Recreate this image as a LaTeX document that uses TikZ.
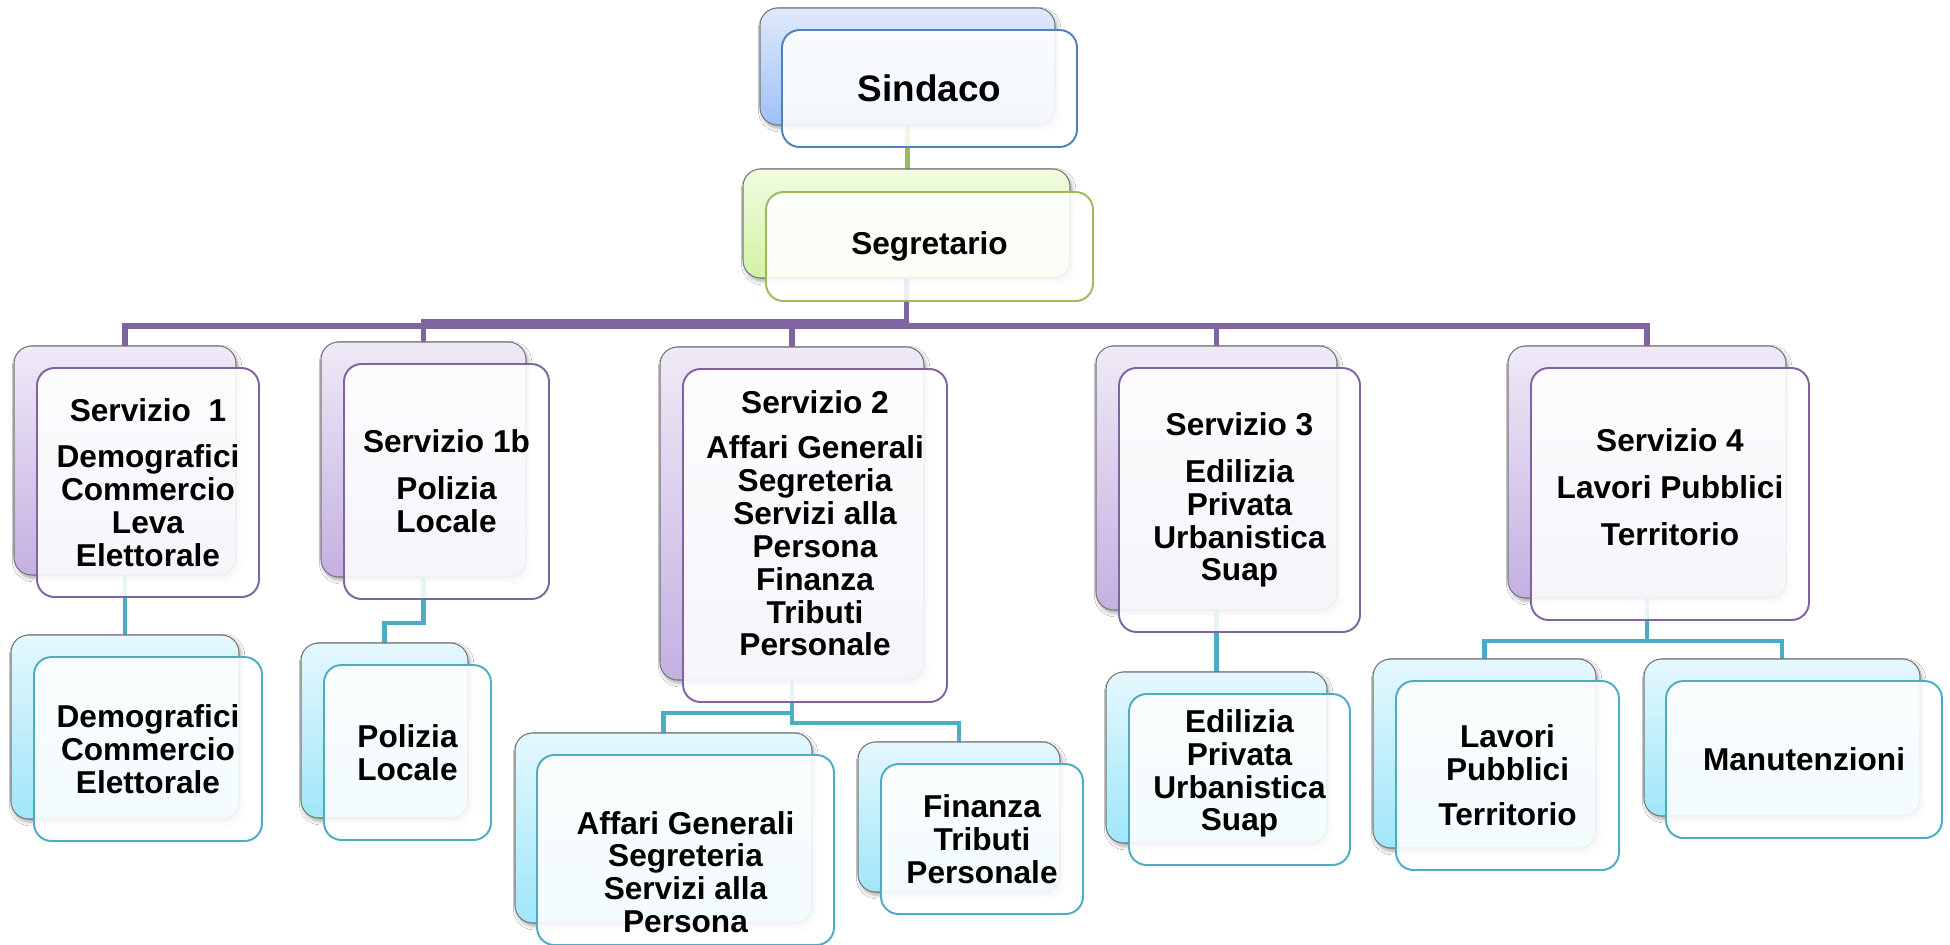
\documentclass[tikz,border=0pt]{standalone}
\usepackage{fontspec}
\setmainfont{Liberation Sans}
\usepackage{tikz}
\usetikzlibrary{calc,backgrounds,shadows.blur}
\definecolor{edge}{HTML}{777777}
\definecolor{blueln}{HTML}{4F81BD}
\definecolor{greenln}{HTML}{9BBB59}
\definecolor{purpleln}{HTML}{8064A2}
\definecolor{cyanln}{HTML}{4BACC6}
\definecolor{blueT}{HTML}{E0EAFC}
\definecolor{blueB}{HTML}{A0C0F5}
\definecolor{greenT}{HTML}{F1FBE2}
\definecolor{greenB}{HTML}{D2F3A4}
\definecolor{purpleT}{HTML}{EFEAF7}
\definecolor{purpleB}{HTML}{C4B0E1}
\definecolor{cyanT}{HTML}{E4F8FD}
\definecolor{cyanB}{HTML}{A0E6F9}
\tikzset{
  sz/.style 2 args={minimum width=#1*0.02cm, minimum height=#2*0.02cm},
  back/.style={draw=edge, line width=0.6pt, rounded corners=10pt, inner sep=0pt, outer sep=0pt,
    blur shadow={shadow xshift=1.2pt, shadow yshift=-1.8pt, shadow blur steps=6, shadow opacity=35}},
  bkblue/.style={back, top color=blueT, bottom color=blueB},
  bkgreen/.style={back, top color=greenT, bottom color=greenB},
  bkpurple/.style={back, top color=purpleT, bottom color=purpleB},
  bkcyan/.style={back, top color=cyanT, bottom color=cyanB},
  front/.style={draw=#1, line width=1.1pt, rounded corners=10pt, fill=white, fill opacity=0.88,
    text opacity=1, inner sep=0pt, outer sep=0pt, align=center, font=\fontsize{18}{18.7}\selectfont\bfseries},
  txt/.style={inner sep=0pt, align=center, font=\fontsize{18}{18.7}\selectfont\bfseries},
  lnG/.style={draw=greenln, line width=2.3pt},
  lnP/.style={draw=purpleln, line width=3.3pt},
  lnC/.style={draw=cyanln, line width=2.7pt},
}
\begin{document}
\begin{tikzpicture}[x=0.02cm, y=-0.02cm]
  \useasboundingbox (0,0) rectangle (1950,944);
  % top
  \node[bkblue, sz={295}{117}] (sind) at (907.5,66.5) {};
  \node[front=blueln, sz={295}{117}, font=\fontsize{21}{24}\selectfont\bfseries] (sindF) at ($(sind)+(22,22)$) {Sindaco};
  \node[bkgreen, sz={327}{109}] (segr) at (906.5,223.5) {};
  \node[front=greenln, sz={327}{109}] (segrF) at ($(segr)+(23,23)$) {Segretario};
  % servizi
  \node[bkpurple, sz={222}{229}] (s1) at (125,460.5) {};
  \node[front=purpleln, sz={222}{229}] (s1F) at ($(s1)+(23,22)$) {Servizio~~1\\[8pt]Demografici\\Commercio\\Leva\\Elettorale};
  \node[bkpurple, sz={205}{235}] (s1b) at (423.5,459.5) {};
  \node[front=purpleln, sz={205}{235}] (s1bF) at ($(s1b)+(23,22)$) {Servizio 1b\\[8pt]Polizia\\Locale};
  \node[bkpurple, sz={264}{333}] (s2) at (792,513.5) {};
  \node[front=purpleln, sz={264}{333}] (s2F) at ($(s2)+(23,22)$) {};
  \node[txt] (s2T) at ($(s2F)+(0,-12)$) {Servizio 2\\[7pt]Affari Generali\\Segreteria\\Servizi alla\\Persona\\Finanza\\Tributi\\Personale};
  \node[bkpurple, sz={241}{264}] (s3) at (1216.5,478) {};
  \node[front=purpleln, sz={241}{264}] (s3F) at ($(s3)+(23,22)$) {Servizio 3\\[8pt]Edilizia\\Privata\\Urbanistica\\Suap};
  \node[bkpurple, sz={278}{252}] (s4) at (1647,472) {};
  \node[front=purpleln, sz={278}{252}] (s4F) at ($(s4)+(23,22)$) {};
  \node[txt] (s4T) at ($(s4F)+(0,-7)$) {Servizio 4\\[8pt]Lavori Pubblici\\[8pt]Territorio};
  % uffici
  \node[bkcyan, sz={228}{184}] (dem) at (125,727) {};
  \node[front=cyanln, sz={228}{184}] (demF) at ($(dem)+(23,22)$) {Demografici\\Commercio\\Elettorale};
  \node[bkcyan, sz={167}{175}] (pol) at (384.5,730.5) {};
  \node[front=cyanln, sz={167}{175}] (polF) at ($(pol)+(23,22)$) {Polizia\\Locale};
  \node[bkcyan, sz={297}{190}] (aff) at (663.5,828) {};
  \node[front=cyanln, sz={297}{190}] (affF) at ($(aff)+(22,22)$) {};
  \node[txt] (affT) at ($(affF)+(0,22)$) {Affari Generali\\Segreteria\\Servizi alla\\Persona};
  \node[bkcyan, sz={202}{150}] (fin) at (959,817) {};
  \node[front=cyanln, sz={202}{150}] (finF) at ($(fin)+(23,22)$) {Finanza\\Tributi\\Personale};
  \node[bkcyan, sz={221}{171}] (edi) at (1216.5,757.5) {};
  \node[front=cyanln, sz={221}{171}] (ediF) at ($(edi)+(23,22)$) {};
  \node[txt] (ediT) at ($(ediF)+(0,-6)$) {Edilizia\\Privata\\Urbanistica\\Suap};
  \node[bkcyan, sz={223}{189}] (lav) at (1484.5,753.5) {};
  \node[front=cyanln, sz={223}{189}] (lavF) at ($(lav)+(23,22)$) {Lavori\\Pubblici\\[7pt]Territorio};
  \node[bkcyan, sz={276}{157}] (man) at (1782,737.5) {};
  \node[front=cyanln, sz={276}{157}] (manF) at ($(man)+(22,22)$) {Manutenzioni};
  \begin{pgfonlayer}{background}
    \fill[white] (0,0) rectangle (1950,944);
    \draw[lnG] (sind.south) -- (sind.south |- segr.north);
    \draw[lnP] (segr.south) -- ++(0,48) -| (s1.north);
    \draw[lnP] (segr.south) -- ++(0,44) -| (s1b.north);
    \draw[lnP] (segr.south) -- ++(0,48) -| (s2.north);
    \draw[lnP] (segr.south) -- ++(0,48) -| (s3.north);
    \draw[lnP] (segr.south) -- ++(0,48) -| (s4.north);
    \draw[lnC] (s1.south) -- (s1.south |- dem.north);
    \draw[lnC] (s1b.south) -- ++(0,46) -| (pol.north);
    \draw[lnC] (s2.south) -- ++(0,33) -| (aff.north);
    \draw[lnC] (s2.south) -- ++(0,43) -| (fin.north);
    \draw[lnC] (s3.south) -- (s3.south |- edi.north);
    \draw[lnC] (s4.south) -- ++(0,43) -| (lav.north);
    \draw[lnC] (s4.south) -- ++(0,43) -| (man.north);
  \end{pgfonlayer}
\end{tikzpicture}
\end{document}
